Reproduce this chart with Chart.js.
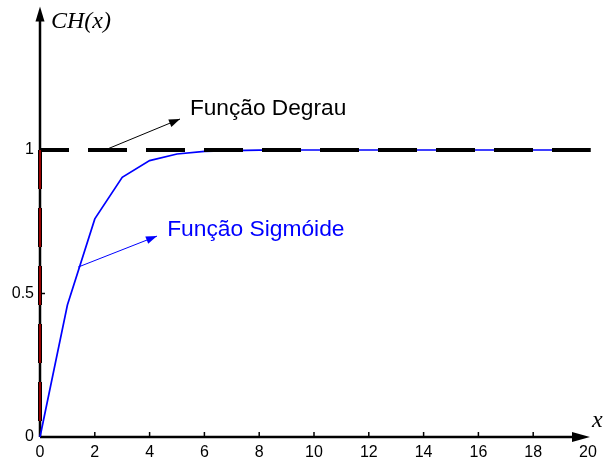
<!DOCTYPE html>
<html>
<head>
<meta charset="utf-8">
<script src="https://cdn.jsdelivr.net/npm/chart.js@4"></script>
<style>
html,body{margin:0;padding:0;background:#fff;}
#wrap{width:612px;height:464px;position:relative;}
</style>
</head>
<body>
<div id="wrap"><canvas id="c" width="612" height="464"></canvas></div>
<script>
// ---- data ----
const xValues = [0,1,2,3,4,5,6,7,8,9,10,11,12,13,14,15,16,17,18,19,20];
const sigmoidValues = [0,0.46,0.76,0.905,0.963,0.986,0.995,0.998,0.9993,1,1,1,1,1,1,1,1,1,1,1,1];
const stepVerticalX = [0,0];
const stepVerticalY = [1,0];
const stepHorizontalX = [0,20.1];
const stepHorizontalY = [1,1];
const xTickValues = [0,2,4,6,8,10,12,14,16,18,20];
const yTickValues = [0,0.5,1];
const yTickLabels = ['0','0.5','1'];
const labelDegrau = 'Função Degrau';
const labelSigmoide = 'Função Sigmóide';
const yAxisTitle = 'CH(x)';
const xAxisTitle = 'x';
// annotation anchors in data units
const degrauArrow = {from:[2.37,1.0], to:[5.11,1.108], text:[5.47,1.122]};
const sigmoideArrow = {from:[1.39,0.592], to:[4.27,0.70], text:[4.64,0.70]};

const pts = (xs, ys) => xs.map((x,i)=>({x:x, y:ys[i]}));

function arrowHead(ctx, x1, y1, x2, y2, len, half) {
  const a = Math.atan2(y2-y1, x2-x1);
  ctx.beginPath();
  ctx.moveTo(x2, y2);
  ctx.lineTo(x2 - len*Math.cos(a) + half*Math.sin(a), y2 - len*Math.sin(a) - half*Math.cos(a));
  ctx.lineTo(x2 - len*Math.cos(a) - half*Math.sin(a), y2 - len*Math.sin(a) + half*Math.cos(a));
  ctx.closePath();
  ctx.fill();
}

const axesPlugin = {
  id: 'axesPlugin',
  beforeDatasetsDraw(chart) {
    const ctx = chart.ctx, xs = chart.scales.x, ys = chart.scales.y;
    const x0 = xs.getPixelForValue(0), y0 = ys.getPixelForValue(0);
    const xEnd = xs.getPixelForValue(20) + 2;
    const yTop = ys.getPixelForValue(1.5);
    ctx.save();
    ctx.strokeStyle = '#000'; ctx.fillStyle = '#000';
    ctx.lineWidth = 2.5;
    ctx.beginPath(); ctx.moveTo(x0, y0); ctx.lineTo(xEnd - 14, y0); ctx.stroke();
    ctx.beginPath(); ctx.moveTo(x0, y0); ctx.lineTo(x0, yTop + 12); ctx.stroke();
    arrowHead(ctx, x0, y0, xEnd, y0, 18, 5);
    arrowHead(ctx, x0, y0, x0, yTop, 15, 4.5);
    ctx.lineWidth = 1.5;
    xTickValues.forEach(v => {
      if (v === 0 || v === 20) return;
      const px = xs.getPixelForValue(v);
      ctx.beginPath(); ctx.moveTo(px, y0); ctx.lineTo(px, y0 - 5); ctx.stroke();
    });
    yTickValues.forEach(v => {
      if (v === 0) return;
      const py = ys.getPixelForValue(v);
      ctx.beginPath(); ctx.moveTo(x0, py); ctx.lineTo(x0 + 5, py); ctx.stroke();
    });
    ctx.restore();
  },
  afterDatasetsDraw(chart) {
    const ctx = chart.ctx, xs = chart.scales.x, ys = chart.scales.y;
    const P = (p) => [xs.getPixelForValue(p[0]), ys.getPixelForValue(p[1])];
    ctx.save();
    // Degrau annotation
    let a = P(degrauArrow.from), b = P(degrauArrow.to), t = P(degrauArrow.text);
    ctx.strokeStyle = '#000'; ctx.fillStyle = '#000'; ctx.lineWidth = 1;
    ctx.beginPath(); ctx.moveTo(a[0], a[1]); ctx.lineTo(b[0], b[1]); ctx.stroke();
    arrowHead(ctx, a[0], a[1], b[0], b[1], 11, 4);
    ctx.font = '22.7px "Liberation Sans", Arial, sans-serif';
    ctx.textBaseline = 'alphabetic'; ctx.textAlign = 'left';
    ctx.fillText(labelDegrau, t[0], t[1]);
    // Sigmoide annotation
    a = P(sigmoideArrow.from); b = P(sigmoideArrow.to); t = P(sigmoideArrow.text);
    ctx.strokeStyle = '#0000ff'; ctx.fillStyle = '#0000ff';
    ctx.beginPath(); ctx.moveTo(a[0], a[1]); ctx.lineTo(b[0], b[1]); ctx.stroke();
    arrowHead(ctx, a[0], a[1], b[0], b[1], 11, 4);
    ctx.font = '22.8px "Liberation Sans", Arial, sans-serif';
    ctx.fillText(labelSigmoide, t[0], t[1]);
    // axis titles
    ctx.fillStyle = '#000';
    ctx.font = 'italic 24px "Liberation Serif", "Times New Roman", serif';
    const x0 = xs.getPixelForValue(0);
    ctx.fillText(yAxisTitle, x0 + 11, 28);
    ctx.fillText(xAxisTitle, xs.getPixelForValue(20) + 4, 427);
    ctx.restore();
  }
};

function zeroPad(s) { s.paddingTop = 0; s.paddingBottom = 0; s.paddingLeft = 0; s.paddingRight = 0; }

new Chart(document.getElementById('c'), {
  type: 'scatter',
  data: {
    datasets: [
      { data: pts(stepVerticalX, stepVerticalY), showLine: true, borderColor: '#c00000', borderWidth: 1.6,
        borderDash: [39,19], pointRadius: 0, clip: false, borderCapStyle: 'butt' },
      { data: pts(stepVerticalX, stepVerticalY), showLine: true, borderColor: '#000', borderWidth: 4,
        borderDash: [39,19], pointRadius: 0, clip: false, borderCapStyle: 'butt' },
      { data: pts(stepHorizontalX, stepHorizontalY), showLine: true, borderColor: '#000', borderWidth: 4,
        borderDash: [39,19], borderDashOffset: 10, pointRadius: 0, clip: false, borderCapStyle: 'butt' },
      { data: pts(xValues, sigmoidValues), showLine: true, borderColor: '#0000ff', borderWidth: 1.7,
        pointRadius: 0, tension: 0, clip: false }
    ]
  },
  options: {
    responsive: false,
    animation: false,
    events: [],
    layout: { padding: { left: 0, right: 24, top: 6.5, bottom: 0 } },
    plugins: { legend: { display: false }, tooltip: { enabled: false } },
    scales: {
      x: {
        type: 'linear', min: 0, max: 20,
        afterFit(s) { s.height = 27; zeroPad(s); },
        afterBuildTicks(s) { s.ticks = xTickValues.map(v => ({ value: v })); },
        grid: { display: false, drawTicks: false },
        border: { display: false },
        ticks: { color: '#000', padding: 6, maxRotation: 0, autoSkip: false,
                 font: { family: '"Liberation Sans", Arial, sans-serif', size: 16 } }
      },
      y: {
        type: 'linear', min: 0, max: 1.5,
        afterFit(s) { s.width = 40; zeroPad(s); },
        afterBuildTicks(s) { s.ticks = yTickValues.map(v => ({ value: v })); },
        grid: { display: false, drawTicks: false },
        border: { display: false },
        ticks: { color: '#000', padding: 6, autoSkip: false,
                 callback: (v) => yTickLabels[yTickValues.indexOf(v)],
                 font: { family: '"Liberation Sans", Arial, sans-serif', size: 16 } }
      }
    }
  },
  plugins: [axesPlugin]
});
</script>
</body>
</html>
